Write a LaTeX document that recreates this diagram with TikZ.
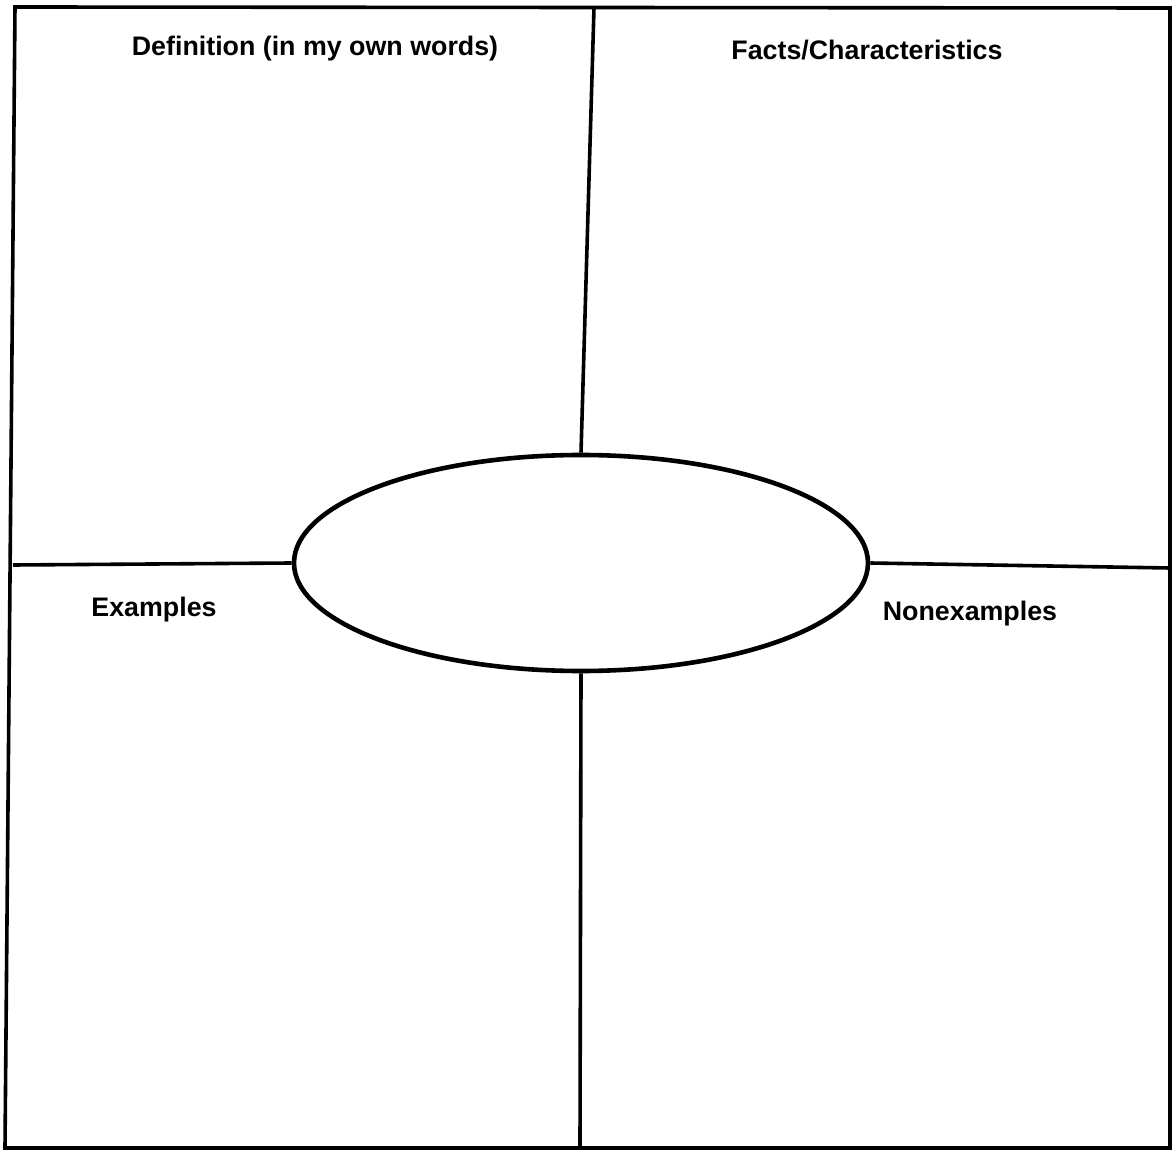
\documentclass[tikz,border=0pt]{standalone}
\usepackage{fontspec}
\setmainfont{Liberation Sans}
\usetikzlibrary{shapes.geometric}
\tikzset{
	frame/.style={line width=1.8pt, color=black},
	oval/.style={ellipse, draw, line width=2.3pt, minimum width=287pt, minimum height=108pt, inner sep=0pt},
	heading/.style={font=\fontsize{13.4}{16}\selectfont\bfseries, inner sep=0pt}
}
\begin{document}
\begin{tikzpicture}[x=0.5pt, y=-0.5pt]
			%%%%% START %%%%%
			\useasboundingbox (0, 0) rectangle (1174, 1155);
			
			\coordinate (tl) at (15, 7);
			\coordinate (tr) at (1170, 8);
			\coordinate (br) at (1170, 1148);
			\coordinate (bl) at (5, 1148);
			\draw[frame] (tl) -- (tr) -- (br) -- (bl) -- cycle;
			
			\node[oval] (centre) at (581, 563) {};
			
			\coordinate (topmid) at (594, 8);
			\coordinate (botmid) at (580, 1148);
			\coordinate (leftmid) at (13, 565);
			\coordinate (rightmid) at (1170, 568);
			
			\draw[frame] (topmid) -- (centre.north);
			\draw[frame] (centre.south) -- (botmid);
			\draw[frame] (leftmid) -- (centre.west);
			\draw[frame] (centre.east) -- (rightmid);
			
			\node[heading] (definition) at (315, 49) {Definition (in my own words)};
			\node[heading] (facts) at (867, 50) {Facts/Characteristics};
			\node[heading] (examples) at (154, 610) {Examples};
			\node[heading] (nonexamples) at (970, 614) {Nonexamples};
			
			%%%%% END %%%%%
		\end{tikzpicture}
\end{document}
